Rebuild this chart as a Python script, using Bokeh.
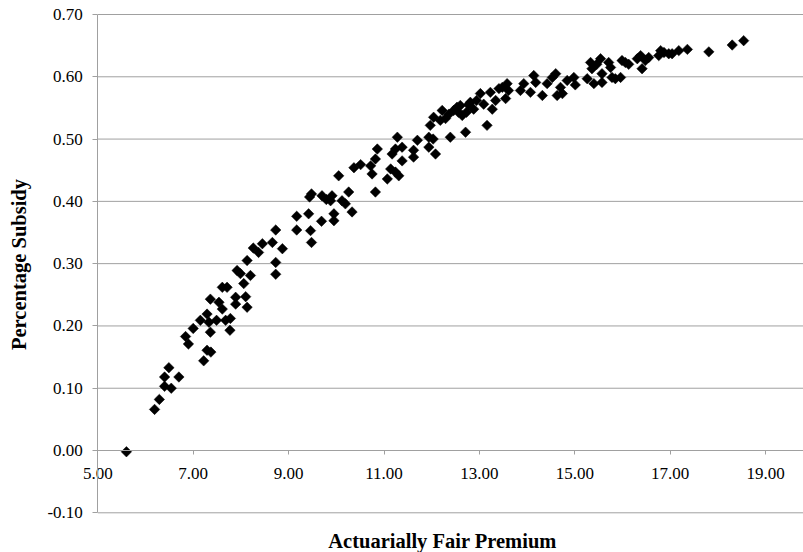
import numpy as np
from bokeh.plotting import figure
from bokeh.models import FixedTicker, NumeralTickFormatter, Label, Range1d, ColumnDataSource
from bokeh.embed import file_html
from bokeh.resources import INLINE

premium = [5.60, 6.19, 6.29, 6.40, 6.40, 6.49, 6.54, 6.70, 6.84, 6.90, 7.00, 7.15, 7.29, 7.33, 7.36,
           7.22, 7.29, 7.37, 7.36, 7.54, 7.61, 7.61, 7.71, 7.68, 7.77, 7.89, 7.89, 7.92, 7.99, 8.06,
           8.13, 8.20, 8.13, 8.73, 8.73, 8.26, 8.45, 8.66, 8.73, 8.87, 9.17, 9.17, 9.42, 9.44, 9.48,
           9.46, 9.48, 9.69, 9.70, 9.79, 9.88, 9.91, 9.95, 9.95, 10.05, 10.12, 10.19, 10.26, 10.33,
           10.37, 10.51, 10.72, 10.75, 10.82, 10.86, 10.82, 11.07, 11.14, 11.24, 11.31, 11.17, 11.28,
           11.24, 11.38, 11.38, 11.62, 11.62, 11.70, 11.94, 11.94, 12.08, 12.03, 11.97, 12.04, 12.18,
           12.22, 12.39, 12.36, 12.46, 12.53, 12.60, 12.64, 12.71, 12.81, 12.88, 13.02, 13.09, 13.16,
           13.23, 13.27, 13.34, 13.41, 13.48, 13.55, 13.58, 13.86, 13.93, 14.07, 14.14, 14.18, 14.32,
           14.42, 14.53, 14.60, 14.63, 14.70, 14.74, 14.84, 14.98, 15.01, 15.26, 15.33, 15.36, 15.40,
           15.54, 15.57, 15.57, 15.71, 15.75, 15.78, 15.85, 15.96, 15.99, 16.06, 16.31, 16.38, 16.41,
           16.48, 16.55, 16.76, 16.80, 16.87, 16.97, 17.04, 17.18, 17.36, 17.81, 18.30, 18.54,
           12.29, 12.56, 12.73, 12.94, 15.46, 16.13, 8.37, 8.10, 7.49, 7.78, 12.77, 13.61]

subsidy = [-0.002, 0.066, 0.082, 0.103, 0.118, 0.133, 0.100, 0.118, 0.183, 0.171, 0.196, 0.209, 0.219, 0.206, 0.190,
           0.144, 0.161, 0.158, 0.243, 0.238, 0.262, 0.227, 0.262, 0.209, 0.193, 0.246, 0.235, 0.289, 0.284, 0.268,
           0.230, 0.281, 0.305, 0.302, 0.283, 0.325, 0.332, 0.334, 0.354, 0.324, 0.376, 0.354, 0.380, 0.407, 0.412,
           0.353, 0.334, 0.368, 0.409, 0.403, 0.401, 0.409, 0.380, 0.369, 0.441, 0.401, 0.396, 0.415, 0.383,
           0.454, 0.459, 0.457, 0.444, 0.468, 0.484, 0.415, 0.436, 0.452, 0.447, 0.441, 0.476, 0.503,
           0.484, 0.487, 0.465, 0.482, 0.471, 0.498, 0.503, 0.487, 0.476, 0.500, 0.522, 0.535, 0.530,
           0.546, 0.503, 0.540, 0.546, 0.551, 0.554, 0.538, 0.511, 0.559, 0.548, 0.573, 0.556, 0.522,
           0.575, 0.548, 0.562, 0.581, 0.583, 0.565, 0.589, 0.578, 0.589, 0.575, 0.602, 0.591, 0.570,
           0.589, 0.599, 0.605, 0.570, 0.583, 0.573, 0.594, 0.599, 0.587, 0.597, 0.623, 0.613, 0.589,
           0.629, 0.605, 0.591, 0.623, 0.615, 0.599, 0.597, 0.599, 0.626, 0.623, 0.629, 0.634, 0.613,
           0.626, 0.631, 0.634, 0.642, 0.639, 0.637, 0.637, 0.642, 0.644, 0.640, 0.651, 0.658,
           0.533, 0.543, 0.543, 0.562, 0.620, 0.620, 0.318, 0.247, 0.209, 0.212, 0.555, 0.578]

x_ticks = [5, 7, 9, 11, 13, 15, 17, 19]
y_ticks = [-0.1, 0.0, 0.1, 0.2, 0.3, 0.4, 0.5, 0.6, 0.7]
x_title = "Actuarially Fair Premium"
y_title = "Percentage Subsidy"

FONT = "Liberation Serif"
GRID = "#a0a0a0"

W, H = 803, 552
X0, XPX = 97.3, 47.7          # pixel of x=5, pixels per unit
Y_TOP, Y_BOT = 14.0, 512.3    # pixels of 0.70 and -0.10
ypx = (Y_BOT - Y_TOP) / 0.8
x_start = 5 - X0 / XPX
x_end = x_start + W / XPX
y_top = 0.7 + Y_TOP / ypx
y_bot = y_top - H / ypx

p = figure(width=W, height=H, output_backend="svg", toolbar_location=None,
           x_range=Range1d(x_start, x_end), y_range=Range1d(y_bot, y_top),
           min_border_left=0, min_border_right=0, min_border_top=0, min_border_bottom=0)
p.outline_line_color = None
p.background_fill_color = "white"
p.border_fill_color = "white"
p.xgrid.visible = False
p.ygrid.visible = False

# horizontal gridlines from the y axis to the right edge
p.segment(x0=[5] * len(y_ticks), x1=[x_end + 1] * len(y_ticks), y0=y_ticks, y1=y_ticks,
          line_color=GRID, line_width=1)

src = ColumnDataSource(dict(x=premium, y=subsidy))
p.scatter("x", "y", source=src, marker="square", angle=np.pi / 4, size=7.4,
          fill_color="black", line_color="black", line_width=0.5)

# x axis sits at y = 0
xa = p.xaxis[0]
xa.fixed_location = 0
xa.bounds = (5, x_end + 1)
xa.ticker = FixedTicker(ticks=x_ticks)
xa.formatter = NumeralTickFormatter(format="0.00")
xa.axis_line_color = GRID
xa.major_tick_line_color = GRID
xa.major_tick_in = 0
xa.major_tick_out = 4
xa.minor_tick_line_color = None
xa.major_label_text_font = FONT
xa.major_label_text_font_size = "17px"
xa.major_label_text_color = "black"
xa.major_label_standoff = 13

# y axis sits at x = 5
ya = p.yaxis[0]
ya.fixed_location = 5
ya.bounds = (-0.1, 0.7)
ya.ticker = FixedTicker(ticks=y_ticks)
ya.formatter = NumeralTickFormatter(format="0.00")
ya.axis_line_color = GRID
ya.major_tick_line_color = GRID
ya.major_tick_in = 0
ya.major_tick_out = 5
ya.minor_tick_line_color = None
ya.major_label_text_font = FONT
ya.major_label_text_font_size = "17px"
ya.major_label_text_color = "black"
ya.major_label_standoff = 10

p.add_layout(Label(x=442, y=H - 540, x_units="screen", y_units="screen", text=x_title,
                   text_align="center", text_baseline="middle",
                   text_font=FONT, text_font_style="bold", text_font_size="20.5px",
                   text_color="black"))
p.add_layout(Label(x=18, y=H - 264, x_units="screen", y_units="screen", text=y_title,
                   angle=np.pi / 2, text_align="center", text_baseline="middle",
                   text_font=FONT, text_font_style="bold", text_font_size="20.5px",
                   text_color="black"))

open("out.html", "w").write(file_html(p, INLINE))
